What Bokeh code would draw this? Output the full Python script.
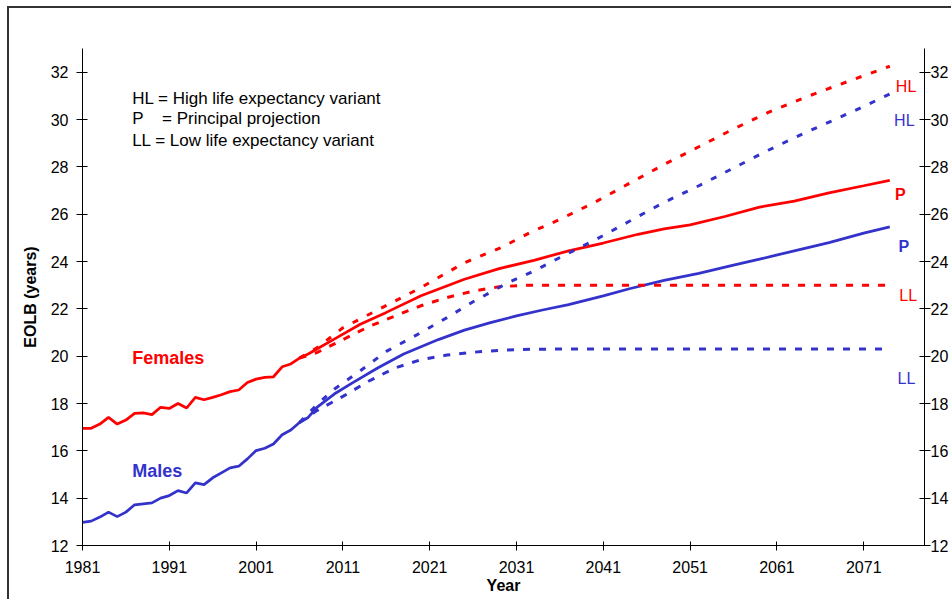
from bokeh.plotting import figure
from bokeh.models import LinearAxis, FixedTicker, Range1d, Label
from bokeh.embed import file_html
from bokeh.resources import INLINE

FONT = "Liberation Sans"
RED = "#FF0000"
BLUE = "#3333CC"
FRAME = "#333333"

# Observed period (annual) and principal projection
hist_years = list(range(1981, 2009))
females_hist = [16.95, 16.95, 17.13, 17.41, 17.13, 17.30, 17.58, 17.60, 17.53, 17.84,
                17.79, 18.00, 17.81, 18.26, 18.16, 18.26, 18.37, 18.50, 18.57, 18.89,
                19.03, 19.10, 19.13, 19.55, 19.67, 19.92, 20.09, 20.30]
males_hist = [12.98, 13.03, 13.20, 13.41, 13.22, 13.41, 13.72, 13.76, 13.80, 14.00,
              14.11, 14.32, 14.22, 14.65, 14.57, 14.86, 15.07, 15.28, 15.35, 15.66,
              16.01, 16.11, 16.29, 16.68, 16.88, 17.20, 17.41, 17.84]

fem_p_years = [2010, 2013, 2016, 2020, 2025, 2029, 2033, 2037, 2041, 2045, 2048,
               2051, 2055, 2059, 2063, 2067, 2071, 2074]
fem_p_vals = [20.72, 21.35, 21.85, 22.55, 23.25, 23.70, 24.05, 24.45, 24.78, 25.15, 25.38,
              25.55, 25.90, 26.30, 26.55, 26.90, 27.20, 27.43]

male_p_years = [2010, 2012, 2015, 2018, 2022, 2025, 2028, 2031, 2034, 2037, 2041,
                2044, 2048, 2052, 2056, 2059, 2063, 2067, 2071, 2074]
male_p_vals = [18.40, 18.85, 19.50, 20.09, 20.70, 21.10, 21.42, 21.70, 21.95, 22.18, 22.55,
               22.85, 23.20, 23.50, 23.85, 24.10, 24.45, 24.80, 25.20, 25.46]

# High life expectancy variant
fem_hl_years = [2006, 2008, 2011, 2015, 2020, 2025, 2029, 2033, 2036, 2040, 2044,
                2048, 2052, 2056, 2060, 2064, 2068, 2071, 2074]
fem_hl_vals = [19.92, 20.35, 21.20, 21.95, 22.90, 23.95, 24.55, 25.30, 25.78, 26.50, 27.30,
               28.10, 28.85, 29.60, 30.30, 30.90, 31.45, 31.85, 32.25]
male_hl_years = [2006, 2008, 2010, 2013, 2016, 2020, 2023, 2026, 2030, 2033, 2036,
                 2040, 2044, 2048, 2052, 2056, 2060, 2064, 2068, 2071, 2074]
male_hl_vals = [17.20, 17.95, 18.60, 19.38, 20.20, 21.00, 21.63, 22.30, 23.10, 23.60, 24.17,
                24.90, 25.70, 26.50, 27.20, 27.95, 28.70, 29.40, 30.05, 30.55, 31.08]

# Low life expectancy variant
fem_ll_years = [2006, 2008, 2011, 2014, 2017, 2020, 2023, 2026, 2029, 2032, 2040,
                2050, 2060, 2074]
fem_ll_vals = [19.92, 20.15, 20.70, 21.25, 21.70, 22.13, 22.48, 22.75, 22.93, 23.00, 23.00,
               23.00, 23.00, 23.00]
male_ll_years = [2006, 2008, 2011, 2014, 2017, 2020, 2023, 2027, 2031, 2035, 2045,
                 2055, 2065, 2074]
male_ll_vals = [17.20, 17.70, 18.30, 18.95, 19.50, 19.85, 20.05, 20.20, 20.28, 20.30, 20.30,
                20.30, 20.30, 20.30]

x_ticks = [1981, 1991, 2001, 2011, 2021, 2031, 2041, 2051, 2061, 2071]
y_ticks = [12, 14, 16, 18, 20, 22, 24, 26, 28, 30, 32]

p = figure(width=951, height=599, output_backend="svg", toolbar_location=None,
           x_range=Range1d(1981, 2078), y_range=Range1d(12, 33),
           min_border_left=82, min_border_right=26, min_border_top=48,
           min_border_bottom=54, outline_line_color=None,
           background_fill_color="white", border_fill_color=None)
p.grid.visible = False

# Thin frame round the whole chart, drawn behind the transparent canvas border
p.styles = {
    "background-color": "white",
    "background-image": f"linear-gradient({FRAME},{FRAME}), linear-gradient({FRAME},{FRAME})",
    "background-size": "2px 100%, 100% 2px",
    "background-position": "7px 6px, 7px 6px",
    "background-repeat": "no-repeat",
}

def style_axis(ax):
    ax.axis_line_color = "black"
    ax.axis_line_width = 1
    ax.major_tick_line_color = "black"
    ax.minor_tick_line_color = None
    ax.major_label_text_font = FONT
    ax.major_label_text_font_size = "16px"
    ax.major_label_text_color = "black"
    ax.axis_label_text_font = FONT
    ax.axis_label_text_font_size = "16px"
    ax.axis_label_text_font_style = "bold"
    ax.axis_label_text_color = "black"

xa = p.xaxis[0]
style_axis(xa)
xa.ticker = FixedTicker(ticks=x_ticks)
xa.major_tick_in = 4
xa.major_tick_out = 5
xa.major_label_standoff = 10
xa.axis_label = "Year"
xa.axis_label_standoff = 1

ya = p.yaxis[0]
style_axis(ya)
ya.ticker = FixedTicker(ticks=y_ticks)
ya.major_tick_in = 5
ya.major_tick_out = 6
ya.major_label_standoff = 8
ya.axis_label = "EOLB (years)"
ya.axis_label_standoff = 9

ra = LinearAxis(ticker=FixedTicker(ticks=y_ticks))
style_axis(ra)
ra.major_tick_in = 5
ra.major_tick_out = 6
ra.major_label_standoff = 0
p.add_layout(ra, "right")

# Principal projections (solid)
p.line(hist_years + fem_p_years, females_hist + fem_p_vals, line_color=RED, line_width=2.75)
p.line(hist_years + male_p_years, males_hist + male_p_vals, line_color=BLUE, line_width=2.75)

# Variants (dashed)
for xs, ys, c, dash in [(fem_hl_years, fem_hl_vals, RED, "6 10"),
                        (fem_ll_years, fem_ll_vals, RED, "7 9"),
                        (male_hl_years, male_hl_vals, BLUE, "6 10"),
                        (male_ll_years, male_ll_vals, BLUE, "7 9")]:
    p.line(xs, ys, line_color=c, line_width=3, line_dash=dash)

def label(x, y, text, color="black", bold=False, size="16px"):
    p.add_layout(Label(x=x, y=y, text=text, text_color=color, text_font=FONT,
                       text_font_size=size, text_font_style="bold" if bold else "normal",
                       text_align="left", text_baseline="alphabetic"))

# Key
label(1986.72, 30.87, "HL = High life expectancy variant", size="17px")
label(1986.72, 30.03, "P", size="17px")
label(1990.17, 30.03, "= Principal projection", size="17px")
label(1986.72, 29.11, "LL = Low life expectancy variant", size="17px")

# Series names
label(1986.72, 19.93, "Females", RED, bold=True, size="18px")
label(1986.72, 15.13, "Males", BLUE, bold=True, size="18px")

# End-of-line variant tags
label(2074.7, 31.40, "HL", RED)
label(2074.5, 29.96, "HL", BLUE)
label(2074.6, 26.82, "P", RED, bold=True)
label(2075.0, 24.63, "P", BLUE, bold=True)
label(2075.1, 22.56, "LL", RED)
label(2074.9, 19.04, "LL", BLUE)

open("out.html", "w").write(file_html(p, INLINE))
